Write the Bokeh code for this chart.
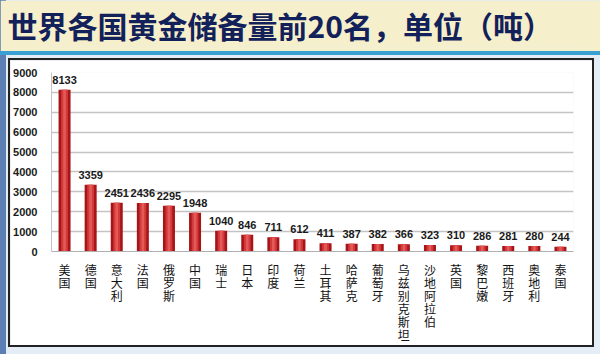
from bokeh.plotting import figure
from bokeh.layouts import column
from bokeh.models import FixedTicker, ColumnDataSource, CategoricalAxis, Spacer, CustomJSTickFormatter
from bokeh.core.properties import value
from bokeh.embed import file_html
from bokeh.resources import INLINE

countries = ["美国", "德国", "意大利", "法国", "俄罗斯", "中国", "瑞士", "日本", "印度", "荷兰",
             "土耳其", "哈萨克", "葡萄牙", "乌兹别克斯坦", "沙地阿拉伯", "英国", "黎巴嫩", "西班牙", "奥地利", "泰国"]
reserves = [8133, 3359, 2451, 2436, 2295, 1948, 1040, 846, 711, 612,
            411, 387, 382, 366, 323, 310, 286, 281, 280, 244]
y_ticks = [0, 1000, 2000, 3000, 4000, 5000, 6000, 7000, 8000, 9000]
title_text = "世界各国黄金储备量前20名，单位（吨）"

src = ColumnDataSource(dict(c=countries, v=reserves, t=[str(v) for v in reserves]))

# ---- header with title ----
head = figure(width=600, height=51, x_range=(0, 600), y_range=(0, 51),
              x_axis_location=None, y_axis_location=None,
              output_backend="svg", toolbar_location=None,
              min_border=0, min_border_left=0, min_border_right=0, min_border_top=0, min_border_bottom=0)
head.grid.visible = False
head.outline_line_color = None
head.background_fill_color = "#f6efcb"
head.border_fill_color = "#f6efcb"
head.title.text = title_text
head.title.align = "left"
head.title.offset = -34
head.title.standoff = 0
head.title.text_font = "Noto Sans CJK SC"
head.title.text_font_size = "30px"
head.title.text_font_style = "bold"
head.title.text_color = "#13215a"

stripe = Spacer(width=600, height=4, styles={"background-color": "#3a9fd2"})

# ---- main chart ----
p = figure(width=582, height=285, x_range=countries, y_range=(0, 9000),
           output_backend="svg", toolbar_location=None,
           min_border_left=38, min_border_right=19, min_border_top=12, min_border_bottom=87,
           margin=(5, 8, 9, 10), styles={"outline": "2px solid #222222"})
p.border_fill_color = "white"
p.background_fill_color = "white"
p.outline_line_color = None

p.vbar(x="c", top="v", width=0.46, source=src, fill_color="#a81519", line_color=None)
p.vbar(x="c", top="v", width=0.26, source=src, fill_color="#d23a3a", line_color=None)
p.vbar(x="c", top="v", width=0.1, source=src, fill_color="#e45a5a", line_color=None)

p.text(x="c", y="v", text="t", source=src, text_align="center", text_baseline="bottom", y_offset=-6,
       text_font=value("Liberation Sans"), text_font_style="bold", text_font_size="11px", text_color="#1a1a1a")

p.xgrid.grid_line_color = None
p.ygrid.grid_line_color = "#c4c4c4"
p.ygrid.grid_line_width = 1.5
p.yaxis.ticker = FixedTicker(ticks=y_ticks)
p.yaxis.major_label_text_font = "Liberation Sans"
p.yaxis.major_label_text_font_style = "bold"
p.yaxis.major_label_text_font_size = "11px"
p.yaxis.major_label_text_color = "#1a1a1a"
p.yaxis.axis_line_color = "#c4c4c4"
p.yaxis.major_tick_line_color = None
p.yaxis.minor_tick_line_color = None
p.yaxis.major_label_standoff = 8

max_len = max(len(c) for c in countries)
label_font = "'Liberation Sans', 'Noto Sans CJK SC'"
for i in range(max_len):
    if i == 0:
        ax = p.xaxis[0]
        ax.axis_line_color = "#b0b0b0"
        ax.major_label_standoff = 12
    else:
        ax = CategoricalAxis()
        ax.axis_line_color = None
        ax.major_label_standoff = -4
        p.add_layout(ax, "below")
    ax.formatter = CustomJSTickFormatter(args=dict(idx=i),
                                         code="return tick.length > idx ? tick[idx] : ' ';")
    ax.major_label_text_font = label_font
    ax.major_label_text_font_size = "12px"
    ax.major_label_text_color = "#111111"
    ax.major_tick_line_color = None
    ax.major_tick_out = 0
    ax.major_tick_in = 0
    ax.major_label_orientation = "horizontal"

open("out.html", "w").write(file_html(column(head, stripe, p, spacing=0,
                                             styles={"background": "linear-gradient(to right, #5b7fb3 0px, #5b7fb3 6px, #e4edf5 6px)"}),
                                      INLINE))
